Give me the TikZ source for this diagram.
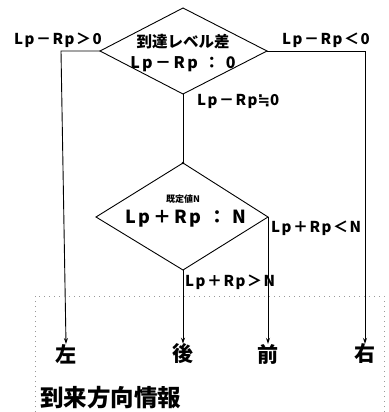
\documentclass[tikz,border=0pt]{standalone}
\usepackage{fontspec}
\setmainfont{Noto Sans CJK JP}
\newfontfamily\symfont{DejaVu Sans}
\usetikzlibrary{arrows.meta}
\begin{document}
\begin{tikzpicture}[x=1pt,y=-1pt,
  ln/.style={line width=0.9pt,black},
  arr/.style={ln,-{Stealth[length=6pt,width=4pt]}},
  cond/.style={font=\fontsize{15}{15}\selectfont\bfseries\addfontfeature{LetterSpace=10},inner sep=0pt},
  dirlab/.style={font=\fontsize{21}{21}\selectfont\bfseries,inner sep=0pt},
  dbox/.style={gray!80,line width=0.5pt,dash pattern=on 1pt off 4pt}]
\useasboundingbox (0,0) rectangle (388,412);
% diamond 1
\coordinate (d1t) at (183,8);
\coordinate (d1l) at (100,51);
\coordinate (d1r) at (267,51);
\coordinate (d1b) at (183,94);
\draw[ln] (d1t) -- (d1r) -- (d1b) -- (d1l) -- cycle;
\node[font=\fontsize{15.5}{15.5}\selectfont\bfseries,inner sep=0pt] (t1) at (183,42) {到達レベル差};
\node[font=\fontsize{16}{16}\selectfont\bfseries\addfontfeature{LetterSpace=15},inner sep=0pt] (t1b) at (183,64) {Lp－Rp\ ：\ 0};
% diamond 2
\coordinate (d2t) at (183,163);
\coordinate (d2l) at (96,217);
\coordinate (d2r) at (268,217);
\coordinate (d2b) at (183,270);
\draw[ln] (d2t) -- (d2r) -- (d2b) -- (d2l) -- cycle;
\fill (d2t) circle (1.3);
\node[font=\fontsize{9}{9}\selectfont\bfseries,inner sep=0pt] (t2) at (183,199) {既定値N};
\node[font=\fontsize{18}{18}\selectfont\bfseries\addfontfeature{LetterSpace=15},inner sep=0pt] (t2b) at (186,219) {Lp＋Rp\ ：\ N};
% corner coordinates
\coordinate (cl) at (61,51);
\coordinate (cr) at (365,51);
% direction labels
\node[dirlab] (left) at (66,354) {左};
\node[dirlab] (back) at (183,354) {後};
\node[dirlab] (front) at (268,354) {前};
\node[dirlab] (right) at (365,354) {右};
% connectors
\draw[arr] (d1l) -- (cl) -- (left.north);
\draw[arr] (d1r) -- (cr) -- (right.north);
\draw[ln] (d1b) -- (d2t);
\draw[arr] (d2b) -- (back.north);
\draw[arr] (d2r) -- (front.north);
% condition labels
\node[cond,anchor=west] (c1) at (14,40) {Lp－Rp＞0};
\node[cond,anchor=west] (c2) at (282,40) {Lp－Rp＜0};
\node[cond,anchor=west] (c3) at (197,101) {Lp－Rp{\symfont ≒}0};
\node[cond,anchor=west] (c4) at (271,228) {Lp＋Rp＜N};
\node[cond,anchor=west] (c5) at (185,282) {Lp＋Rp＞N};
% dashed frame
\draw[dbox] (35,412) -- (35,296) -- (384,296) -- (384,412);
\node[font=\fontsize{23.5}{23.5}\selectfont\bfseries,inner sep=0pt,anchor=west] (info) at (40,398) {到来方向情報};
\end{tikzpicture}
\end{document}
